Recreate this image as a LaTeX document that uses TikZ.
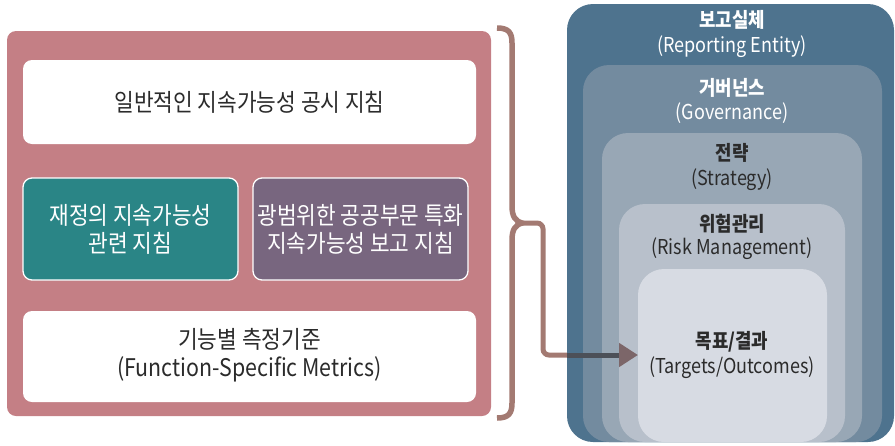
\documentclass[tikz,border=0pt]{standalone}
\usepackage{fontspec}
\setmainfont{Noto Sans CJK KR}[FakeStretch=0.88]
\usetikzlibrary{arrows.meta}
\definecolor{pinkpanel}{HTML}{C47F85}
\definecolor{tealbox}{HTML}{2A8586}
\definecolor{purplebox}{HTML}{78667F}
\definecolor{bracecol}{HTML}{A37A72}
\definecolor{arrowdark}{HTML}{4C5058}
\definecolor{arrowtip}{HTML}{7C6669}
\definecolor{lvA}{HTML}{4E738E}
\definecolor{lvB}{HTML}{738B9F}
\definecolor{lvC}{HTML}{98A7B5}
\definecolor{lvD}{HTML}{B8C0CB}
\definecolor{lvE}{HTML}{D7DBE3}
\definecolor{darktext}{HTML}{2B2B2B}
\tikzset{
  panel/.style={fill=pinkpanel, rounded corners=9pt},
  whitebox/.style={fill=white, rounded corners=9pt},
  colbox/.style={draw=white, line width=1.3pt, rounded corners=9pt},
  lefttext/.style={font=\fontsize{24.3}{28}\selectfont, align=center},
  level/.style={rounded corners=26pt},
  lvtitle/.style={font=\fontsize{20.3}{27}\selectfont\bfseries, align=center},
  lvsub/.style={font=\fontsize{20.5}{27}\selectfont, align=center},
}
\begin{document}
\begin{tikzpicture}[x=1pt, y=-1pt]
\useasboundingbox (0,0) rectangle (895,445);
% left panel
\path[panel] (7,31) rectangle (491,416);
\path[whitebox] (23,60) rectangle (476,144);
\node[lefttext, text=darktext] (gen) at (249.5,102) {일반적인 지속가능성 공시 지침};
\path[colbox, fill=tealbox] (23,178) rectangle (238,280);
\node[lefttext, text=white] (fin) at (130.5,229) {재정의 지속가능성\\관련 지침};
\path[colbox, fill=purplebox] (253,178) rectangle (468,280);
\node[lefttext, text=white] (pub) at (360.5,229) {광범위한 공공부문 특화\\지속가능성 보고 지침};
\path[whitebox] (23,311) rectangle (476,402);
\node[lefttext, text=darktext] (fun) at (249.5,355) {기능별 측정기준\\(Function-Specific Metrics)};
% right nested levels
\path[level, fill=lvA] (567,4) rectangle (894,442);
\path[level, fill=lvB] (583,65) rectangle (882,442);
\path[level, fill=lvC] (602,133) rectangle (862,442);
\path[level, fill=lvD] (619,204) rectangle (845,442);
\path[level, fill=lvE] (638,269) rectangle (827,442);
\coordinate (box5w) at (638,355);
\node[lvtitle, text=white] (t1) at (732,20) {보고실체};
\node[lvsub, text=white] (s1) at (732,47) {(Reporting Entity)};
\node[lvtitle, text=white] (t2) at (732,88) {거버넌스};
\node[lvsub, text=white] (s2) at (732,113) {(Governance)};
\node[lvtitle, text=darktext] (t3) at (732,153) {전략};
\node[lvsub, text=darktext] (s3) at (732,180) {(Strategy)};
\node[lvtitle, text=darktext] (t4) at (732,224) {위험관리};
\node[lvsub, text=darktext] (s4) at (732,249) {(Risk Management)};
\node[lvtitle, text=darktext] (t5) at (732,342) {목표/결과};
\node[lvsub, text=darktext] (s5) at (732,368) {(Targets/Outcomes)};
% brace
\draw[bracecol, line width=5.5pt]
  (497,28) .. controls (509,28) and (512,33) .. (512,43) -- (512,206)
  .. controls (512,216) and (515,221) .. (522,223)
  .. controls (515,225) and (512,230) .. (512,240) -- (512,403)
  .. controls (512,413) and (509,418) .. (497,418);
\coordinate (tip) at (520,223);
\coordinate (enterblue) at (567,355);
% connector
\draw[bracecol, line width=5pt, rounded corners=6pt]
  (tip) -- (543,223) -- (543,355) -- (enterblue);
\draw[arrowdark, line width=5pt, -{Triangle[length=19pt,width=23pt,color=arrowtip]}]
  (enterblue) -- (box5w);
\end{tikzpicture}
\end{document}
